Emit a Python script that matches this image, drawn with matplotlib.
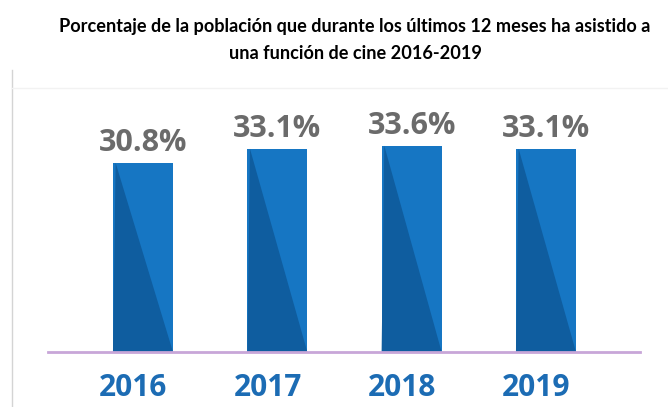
import matplotlib.pyplot as plt
from matplotlib.lines import Line2D

years = ["2016", "2017", "2018", "2019"]
values = [30.8, 33.1, 33.6, 33.1]
labels = ["30.8%", "33.1%", "33.6%", "33.1%"]

title = ("Porcentaje de la población que durante los últimos 12 meses ha asistido a\n"
         "una función de cine 2016-2019")

W, H = 668, 407
fig = plt.figure(figsize=(W / 100, H / 100), dpi=100)

# axes placed so the baseline sits where the reference has it
ax = fig.add_axes([48 / W, (H - 352) / H, (640 - 48) / W, 245.6 / H])
ax.set_xlim(-0.707, 3.70)
ax.set_ylim(0, 40)
ax.axis("off")

x = list(range(len(years)))
width = 0.447
light = "#1676c3"
dark = "#0f5d9f"

bars = ax.bar(x, values, width=width, color=light, zorder=2)
for b in bars:
    x0 = b.get_x()
    x1 = x0 + b.get_width()
    top = b.get_height()
    # darker lower-left triangle
    ax.fill([x0, x0 + 0.02, x1, x0], [0, top, 0, 0], color=dark, zorder=3, lw=0)

for xi, v, lab in zip(x, values, labels):
    ax.annotate(lab, (xi, v), xytext=(0, 8.6), textcoords="offset points",
                ha="center", va="baseline", fontsize=22, fontweight="bold",
                color="#6b6b6b", family="Open Sans")
    # year labels sit a little left of the bar centres in the original
    ax.annotate(years[xi], (xi, 0), xytext=(-7, -15), textcoords="offset points",
                ha="center", va="top", fontsize=21.5, fontweight="bold",
                color="#1c6cb4", family="Open Sans")

ax.axhline(0, color="#c8a6d8", lw=2, zorder=4, clip_on=False)

# light frame around the chart area
fig.add_artist(Line2D([12 / W, 12 / W], [0, 1 - 70 / H], color="#d4d4d4", lw=1))
fig.add_artist(Line2D([12 / W, 1], [1 - 88 / H, 1 - 88 / H], color="#f2f2f2", lw=1))

fig.text(355 / W, 1 - 40 / H, title, ha="center", va="center", fontsize=13.1,
         fontweight="bold", family="Lato", linespacing=1.7, color="black")

fig.savefig("out.png", dpi=100)
